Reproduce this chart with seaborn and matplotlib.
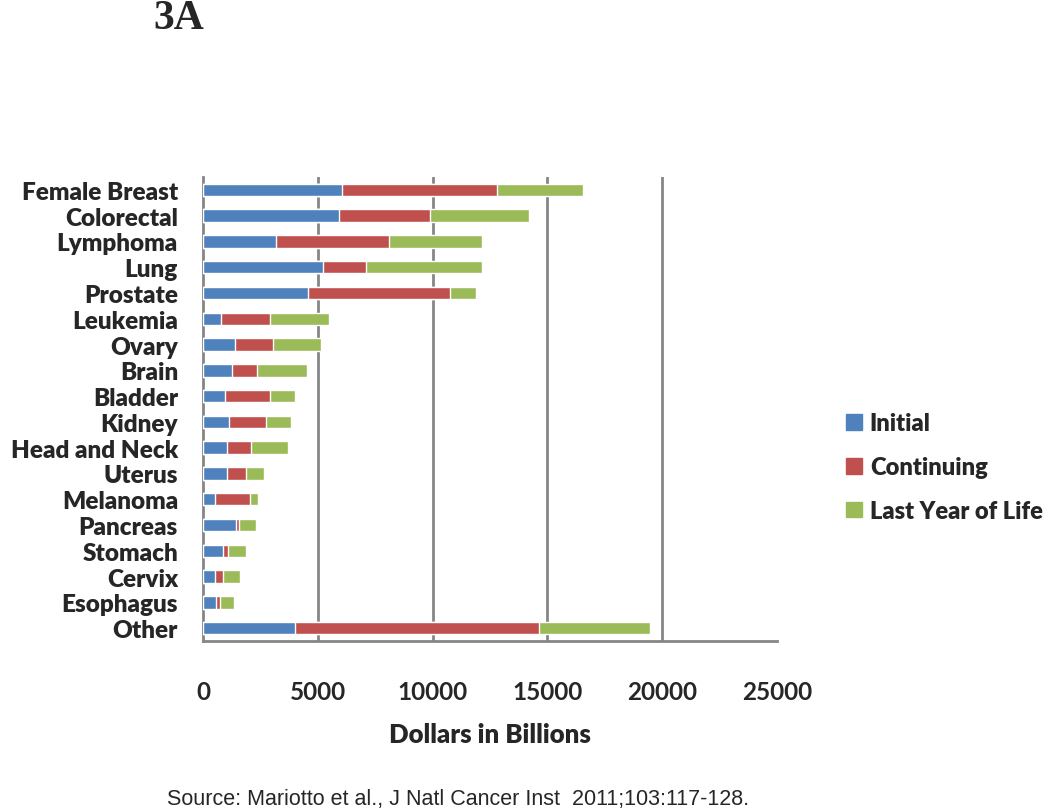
import numpy as np
import pandas as pd
import matplotlib
matplotlib.use("Agg")
import matplotlib.pyplot as plt
import matplotlib.patches as mpatches
import seaborn as sns

# ------------------------------------------------------------
# data (billions of dollars)
# ------------------------------------------------------------
sites = ["Female Breast", "Colorectal", "Lymphoma", "Lung", "Prostate",
         "Leukemia", "Ovary", "Brain", "Bladder", "Kidney", "Head and Neck",
         "Uterus", "Melanoma", "Pancreas", "Stomach", "Cervix", "Esophagus",
         "Other"]
initial    = [6040, 5930, 3160, 5240, 4560, 800, 1410, 1280, 970, 1150, 1060,
              1060, 520, 1440, 860, 520, 580, 4020]
continuing = [6760, 3940, 4920, 1870, 6210, 2100, 1650, 1060, 1930, 1580, 1050,
              810, 1510, 110, 220, 370, 160, 10620]
last_year  = [3750, 4320, 4090, 5060, 1140, 2570, 2090, 2170, 1120, 1120, 1580,
              780, 360, 760, 780, 710, 630, 4840]
x_ticks = [0, 5000, 10000, 15000, 20000, 25000]

phase_names = ["Initial", "Continuing", "Last Year of Life"]
colours = ["#4F81BD", "#C0504D", "#9BBB59"]

df = pd.DataFrame({"site": sites, "Initial": initial,
                   "Continuing": continuing, "Last": last_year})
df["cum_cont"] = df["Initial"] + df["Continuing"]
df["cum_last"] = df["cum_cont"] + df["Last"]

sns.set_style("white")
plt.rcParams["font.family"] = ["Lato", "DejaVu Sans"]
grid_col = "#868686"

fig = plt.figure(figsize=(10.5, 8.12), dpi=100)
ax = fig.add_axes([203 / 1050, 1 - 642 / 812, 574 / 1050, 464 / 812])

# stacked bars: draw cumulative totals back to front
bar_w = 0.48
for col, c in zip(["cum_last", "cum_cont", "Initial"], colours[::-1]):
    sns.barplot(data=df, x=col, y="site", orient="h", color=c,
                width=bar_w, saturation=1, ax=ax, zorder=3)

ax.set_xlim(0, 25000)
ax.set_ylim(17.5, -0.5)
for xv in x_ticks[1:-1]:
    ax.axvline(xv, color=grid_col, lw=2, zorder=1)

for s in ["top", "right"]:
    ax.spines[s].set_visible(False)
for s in ["left", "bottom"]:
    ax.spines[s].set_color(grid_col)
    ax.spines[s].set_linewidth(2)

ax.set_xticks(x_ticks)
ax.set_xticklabels([str(v) for v in x_ticks], fontsize=17.5, fontweight="bold")
ax.tick_params(axis="x", direction="out", length=7, width=2, color=grid_col,
               pad=21)

# category ticks sit between bars, labels centred on bars
ax.set_yticks(np.arange(len(sites)))
ax.set_yticklabels(sites, fontsize=17.5, fontweight="heavy")
ax.tick_params(axis="y", length=0, pad=18)
ax.set_yticks(np.arange(-0.5, len(sites), 1.0), minor=True)
ax.tick_params(axis="y", which="minor", direction="out", length=7, width=2,
               color=grid_col)

ax.set_ylabel("")
ax.set_xlabel("Dollars in Billions", fontsize=18.5, fontweight="heavy",
              labelpad=14)

handles = [mpatches.Patch(color=c, label=n) for c, n in zip(colours, phase_names)]
leg = fig.legend(handles=handles, loc="upper left",
                 bbox_to_anchor=(825 / 1050, 1 - 392 / 812),
                 frameon=False, prop={"size": 17, "weight": "heavy"},
                 handlelength=0.65, handleheight=0.65, handletextpad=0.35,
                 labelspacing=0.92)

fig.text(153 / 1050, 1 - 19 / 812, "3A", fontsize=30, fontweight="bold",
         family="Liberation Serif", va="center", ha="left")
fig.text(458 / 1050, 1 - 800 / 812,
         "Source: Mariotto et al., J Natl Cancer Inst  2011;103:117-128.",
         fontsize=15.5, family="Liberation Sans", va="center", ha="center")

fig.savefig("out.png", dpi=100)
